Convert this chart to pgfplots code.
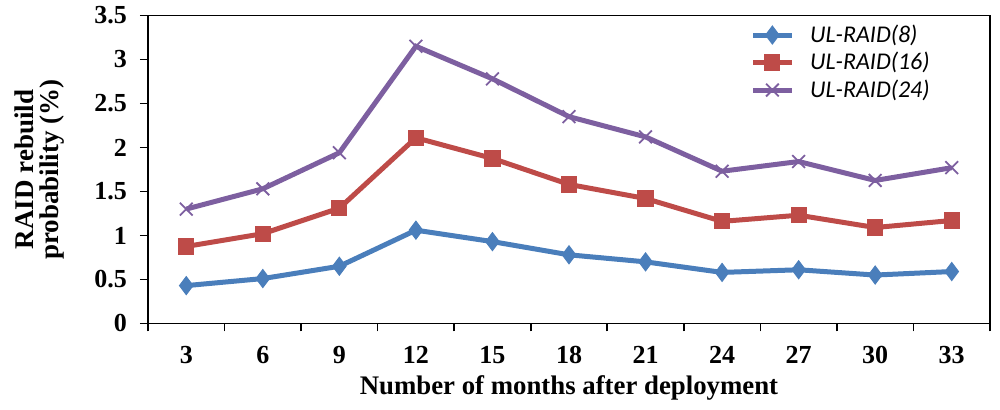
\documentclass[border=0pt]{standalone}
\usepackage{fontspec}
\setmainfont{Liberation Serif}
\newfontfamily\legfont{Carlito}
\usepackage{pgfplots}
\pgfplotsset{compat=1.18}
\definecolor{cblue}{HTML}{4A7EBB}
\definecolor{cred}{HTML}{BE4B48}
\definecolor{cpurple}{HTML}{7D5FA0}
\begin{document}
\begin{tikzpicture}
\begin{axis}[
  scale only axis, width=421pt, height=154pt,
  xmin=-0.5, xmax=10.5, ymin=0, ymax=3.5,
  xtick={0,...,10},
  xticklabels={3,6,9,12,15,18,21,24,27,30,33},
  major x tick style={draw=none},
  minor xtick={-0.5,0.5,...,10.5},
  ytick={0,0.5,...,3.5},
  yticklabels={0,0.5,1,1.5,2,2.5,3,3.5},
  tick align=outside, tick pos=left,
  major tick length=4pt, minor tick length=4pt,
  tick style={black, line width=0.8pt},
  axis line style={black, line width=0.8pt},
  /pgf/number format/assume math mode=true,
  ticklabel style={font=\fontsize{13}{15}\selectfont\bfseries},
  xticklabel style={yshift=-4pt},
  yticklabel style={xshift=-3pt},
  xlabel={Number of months after deployment},
  ylabel={RAID rebuild\\probability (\%)},
  ylabel style={align=center, font=\fontsize{13.5}{12.5}\selectfont\bfseries, yshift=8pt},
  xlabel style={font=\fontsize{13.4}{15}\selectfont\bfseries, yshift=1pt},
  legend style={at={(0.708,0.997)}, anchor=north west, draw=none, fill=none,
    font=\fontsize{12}{14}\selectfont\legfont\itshape, row sep=-0.5pt},
  legend cell align=left,
  legend image code/.code={
    \draw[mark repeat=2,mark phase=2] plot coordinates {(0cm,0cm) (0.34cm,0cm) (0.68cm,0cm)};},
  every axis plot/.append style={line width=2.5pt},
]
\addplot[cblue, mark=diamond*, mark size=4.5pt, mark options={solid,line width=0.5pt}] coordinates {
(0,0.43) (1,0.51) (2,0.65) (3,1.06) (4,0.93) (5,0.78) (6,0.70) (7,0.58) (8,0.61) (9,0.55) (10,0.59)};
\addlegendentry{\hspace{6pt}UL-RAID(8)}
\addplot[cred, mark=square*, mark size=3.8pt, mark options={solid,line width=0.5pt}] coordinates {
(0,0.875) (1,1.02) (2,1.31) (3,2.11) (4,1.875) (5,1.58) (6,1.42) (7,1.16) (8,1.23) (9,1.09) (10,1.17)};
\addlegendentry{\hspace{6pt}UL-RAID(16)}
\addplot[cpurple, mark=x, mark size=4.5pt, mark options={solid,line width=0.9pt}] coordinates {
(0,1.30) (1,1.53) (2,1.94) (3,3.15) (4,2.78) (5,2.35) (6,2.12) (7,1.73) (8,1.84) (9,1.625) (10,1.77)};
\addlegendentry{\hspace{6pt}UL-RAID(24)}
\end{axis}
\path (current axis.south west) +(-74pt,-43pt) (current axis.north east) +(5pt,6.5pt);
\end{tikzpicture}
\end{document}
